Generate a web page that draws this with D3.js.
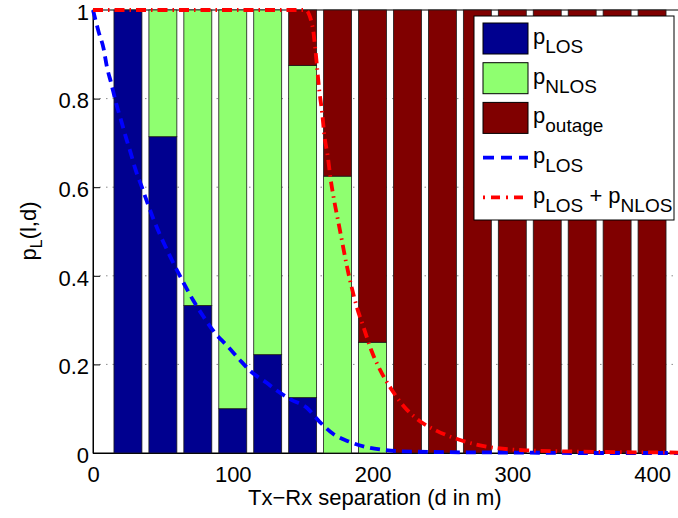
<!DOCTYPE html>
<html>
<head>
<meta charset="utf-8">
<script src="https://cdn.jsdelivr.net/npm/d3@7"></script>
<style>
  html, body { margin: 0; padding: 0; background: #fff; }
  svg { display: block; font-family: "Liberation Sans", Arial, Helvetica, sans-serif; }
</style>
</head>
<body>
<svg id="chart" width="678" height="518"></svg>
<script>
// Tx-Rx separation of each bar group (m)
const distances = [25, 50, 75, 100, 125, 150, 175, 200, 225, 250, 275, 300, 325, 350, 375, 400];
// Stacked link-state probabilities per distance
const pLOS    = [1, 0.714, 0.333, 0.1, 0.222, 0.125, 0, 0, 0, 0, 0, 0, 0, 0, 0, 0];
const pNLOS   = [0, 0.286, 0.667, 0.9, 0.778, 0.75, 0.625, 0.25, 0, 0, 0, 0, 0, 0, 0, 0];
const pOutage = [0, 0, 0, 0, 0, 0.125, 0.375, 0.75, 1, 1, 1, 1, 1, 1, 1, 1];

// Fitted LOS probability curve
const losCurveD = [0, 4, 7.5, 10, 13, 16.5, 20, 23.5, 27, 30.5, 35, 39, 43.5, 55, 66, 72, 79, 87, 96, 104.5, 113, 124, 131, 142, 153, 162, 171.5, 183, 196, 208, 220, 250, 300, 350, 420];
const losCurveP = [1, 0.951, 0.914, 0.871, 0.835, 0.79, 0.752, 0.713, 0.677, 0.639, 0.6, 0.564, 0.526, 0.445, 0.377, 0.343, 0.308, 0.272, 0.242, 0.212, 0.184, 0.159, 0.142, 0.12, 0.102, 0.071, 0.044, 0.026, 0.013, 0.007, 0.004, 0.002, 0.001, 0, 0];

// Fitted LOS + NLOS probability curve
const losNlosCurveD = [0, 100, 152, 157, 159, 160.5, 162, 164, 165.5, 168, 170, 172.5, 175.5, 178.5, 181.5, 185, 189, 193.5, 199, 205.5, 213.5, 222.5, 233, 246, 260, 276, 289, 310, 350, 420];
const losNlosCurveP = [1, 1, 1, 0.964, 0.914, 0.865, 0.816, 0.767, 0.718, 0.669, 0.619, 0.571, 0.522, 0.473, 0.424, 0.375, 0.327, 0.285, 0.233, 0.187, 0.144, 0.105, 0.074, 0.05, 0.032, 0.018, 0.011, 0.006, 0.003, 0.001];

const xTicks = [0, 100, 200, 300, 400];
const yTicks = [0, 0.2, 0.4, 0.6, 0.8, 1];

const colors = { los: "#00008F", nlos: "#8FFF70", outage: "#800000" };

const svg = d3.select("#chart");
const plotLeft = 93, plotRight = 680, plotTop = 10, plotBottom = 453;
const fontSize = 22, subSize = 19;

const x = d3.scaleLinear().domain([0, 420]).range([plotLeft, plotRight]);
const y = d3.scaleLinear().domain([0, 1]).range([plotBottom, plotTop]);

// Dotted grid (sits beneath the bars)
const grid = svg.append("g");
grid.selectAll("line.gy").data(yTicks.slice(1, -1)).join("line")
  .attr("x1", plotLeft).attr("x2", plotRight)
  .attr("y1", d => y(d)).attr("y2", d => y(d))
  .attr("stroke", "#8c8c8c").attr("stroke-width", 1)
  .attr("stroke-dasharray", "1.5,5");
grid.selectAll("line.gx").data(xTicks.slice(1)).join("line")
  .attr("y1", plotTop).attr("y2", plotBottom)
  .attr("x1", d => x(d)).attr("x2", d => x(d))
  .attr("stroke", "#8c8c8c").attr("stroke-width", 1)
  .attr("stroke-dasharray", "1.5,5");

// Axes with inward ticks
const fmt = d => (d === 0 || d === 1) ? String(d) : d.toFixed(1);
const yAxis = svg.append("g").attr("transform", `translate(${plotLeft},0)`)
  .call(d3.axisLeft(y).tickValues(yTicks).tickFormat(fmt).tickSizeInner(-7).tickSizeOuter(0).tickPadding(4));
const xAxis = svg.append("g").attr("transform", `translate(0,${plotBottom})`)
  .call(d3.axisBottom(x).tickValues(xTicks).tickFormat(d3.format("d")).tickSizeInner(-7).tickSizeOuter(0).tickPadding(13));
[yAxis, xAxis].forEach(g => {
  g.selectAll("text").attr("font-size", fontSize).attr("fill", "#000")
    .attr("font-family", "Liberation Sans, Arial, Helvetica, sans-serif");
  g.selectAll("line").attr("stroke", "#000");
  g.select(".domain").attr("stroke", "#000");
});
yAxis.selectAll("text").attr("dy", "0.42em");

// Plot box
svg.append("rect").attr("x", plotLeft).attr("y", plotTop)
  .attr("width", plotRight - plotLeft).attr("height", plotBottom - plotTop)
  .attr("fill", "none").attr("stroke", "#000").attr("stroke-width", 1);

// Stacked bars
const rows = distances.map((d, i) => ({ d, los: pLOS[i], nlos: pNLOS[i], outage: pOutage[i] }));
const keys = ["los", "nlos", "outage"];
const stacked = d3.stack().keys(keys)(rows);
const halfW = 10;
svg.append("g").selectAll("g").data(stacked).join("g")
  .attr("fill", s => colors[s.key])
  .selectAll("rect").data(s => s.filter(v => v[1] - v[0] > 0)).join("rect")
  .attr("x", v => x(v.data.d - halfW))
  .attr("width", v => x(v.data.d + halfW) - x(v.data.d - halfW))
  .attr("y", v => y(v[1]))
  .attr("height", v => y(v[0]) - y(v[1]))
  .attr("stroke", "#1a1a1a").attr("stroke-width", 0.8);

// Curves
const line = d3.line().x(p => x(p[0])).y(p => y(p[1])).curve(d3.curveMonotoneX);
svg.append("path")
  .datum(losCurveD.map((d, i) => [d, losCurveP[i]]))
  .attr("d", line).attr("fill", "none")
  .attr("stroke", "#0000FF").attr("stroke-width", 3.8)
  .attr("stroke-dasharray", "10,6");
svg.append("path")
  .datum(losNlosCurveD.map((d, i) => [d, losNlosCurveP[i]]))
  .attr("d", line).attr("fill", "none")
  .attr("stroke", "#FF0000").attr("stroke-width", 3.8)
  .attr("stroke-dasharray", "10,5,1.5,5");

// Axis titles
svg.append("text").attr("x", 248).attr("y", 505)
  .attr("font-size", fontSize).attr("fill", "#000")
  .text("Tx\u2212Rx separation (d in m)");
const yl = svg.append("text")
  .attr("transform", "translate(36,231) rotate(-90)")
  .attr("text-anchor", "middle").attr("font-size", fontSize).attr("fill", "#000");
yl.append("tspan").text("p");
yl.append("tspan").attr("font-size", 16).attr("dy", 6).text("L");
yl.append("tspan").attr("dy", -6).text("(l,d)");

// Legend
const legend = svg.append("g");
legend.append("rect").attr("x", 474).attr("y", 16).attr("width", 200).attr("height", 204)
  .attr("fill", "#fff").attr("stroke", "#000").attr("stroke-width", 1);

const legendItems = [
  { type: "rect", color: colors.los, parts: [["p", "LOS"]] },
  { type: "rect", color: colors.nlos, parts: [["p", "NLOS"]] },
  { type: "rect", color: colors.outage, parts: [["p", "outage"]] },
  { type: "line", color: "#0000FF", dash: "11,7", parts: [["p", "LOS"]] },
  { type: "line", color: "#FF0000", dash: "2,6,9,6", parts: [["p", "LOS"], [" + p", "NLOS"]] }
];
legendItems.forEach((it, i) => {
  const base = 44 + i * 39.7;
  const cy = base - 5.5;
  if (it.type === "rect") {
    legend.append("rect").attr("x", 483).attr("y", cy - 15.5).attr("width", 45).attr("height", 31)
      .attr("fill", it.color).attr("stroke", "#000").attr("stroke-width", 1);
  } else {
    legend.append("line").attr("x1", 483).attr("x2", 528).attr("y1", cy).attr("y2", cy)
      .attr("stroke", it.color).attr("stroke-width", 3.8).attr("stroke-dasharray", it.dash);
  }
  const t = legend.append("text").attr("x", 533).attr("y", base)
    .attr("font-size", fontSize).attr("fill", "#000");
  it.parts.forEach(([main, sub], k) => {
    t.append("tspan").attr("dy", k === 0 ? 0 : -9).attr("font-size", fontSize)
      .style("white-space", "pre").text(main);
    t.append("tspan").attr("dy", 9).attr("font-size", subSize).text(sub);
  });
});
</script>
</body>
</html>
